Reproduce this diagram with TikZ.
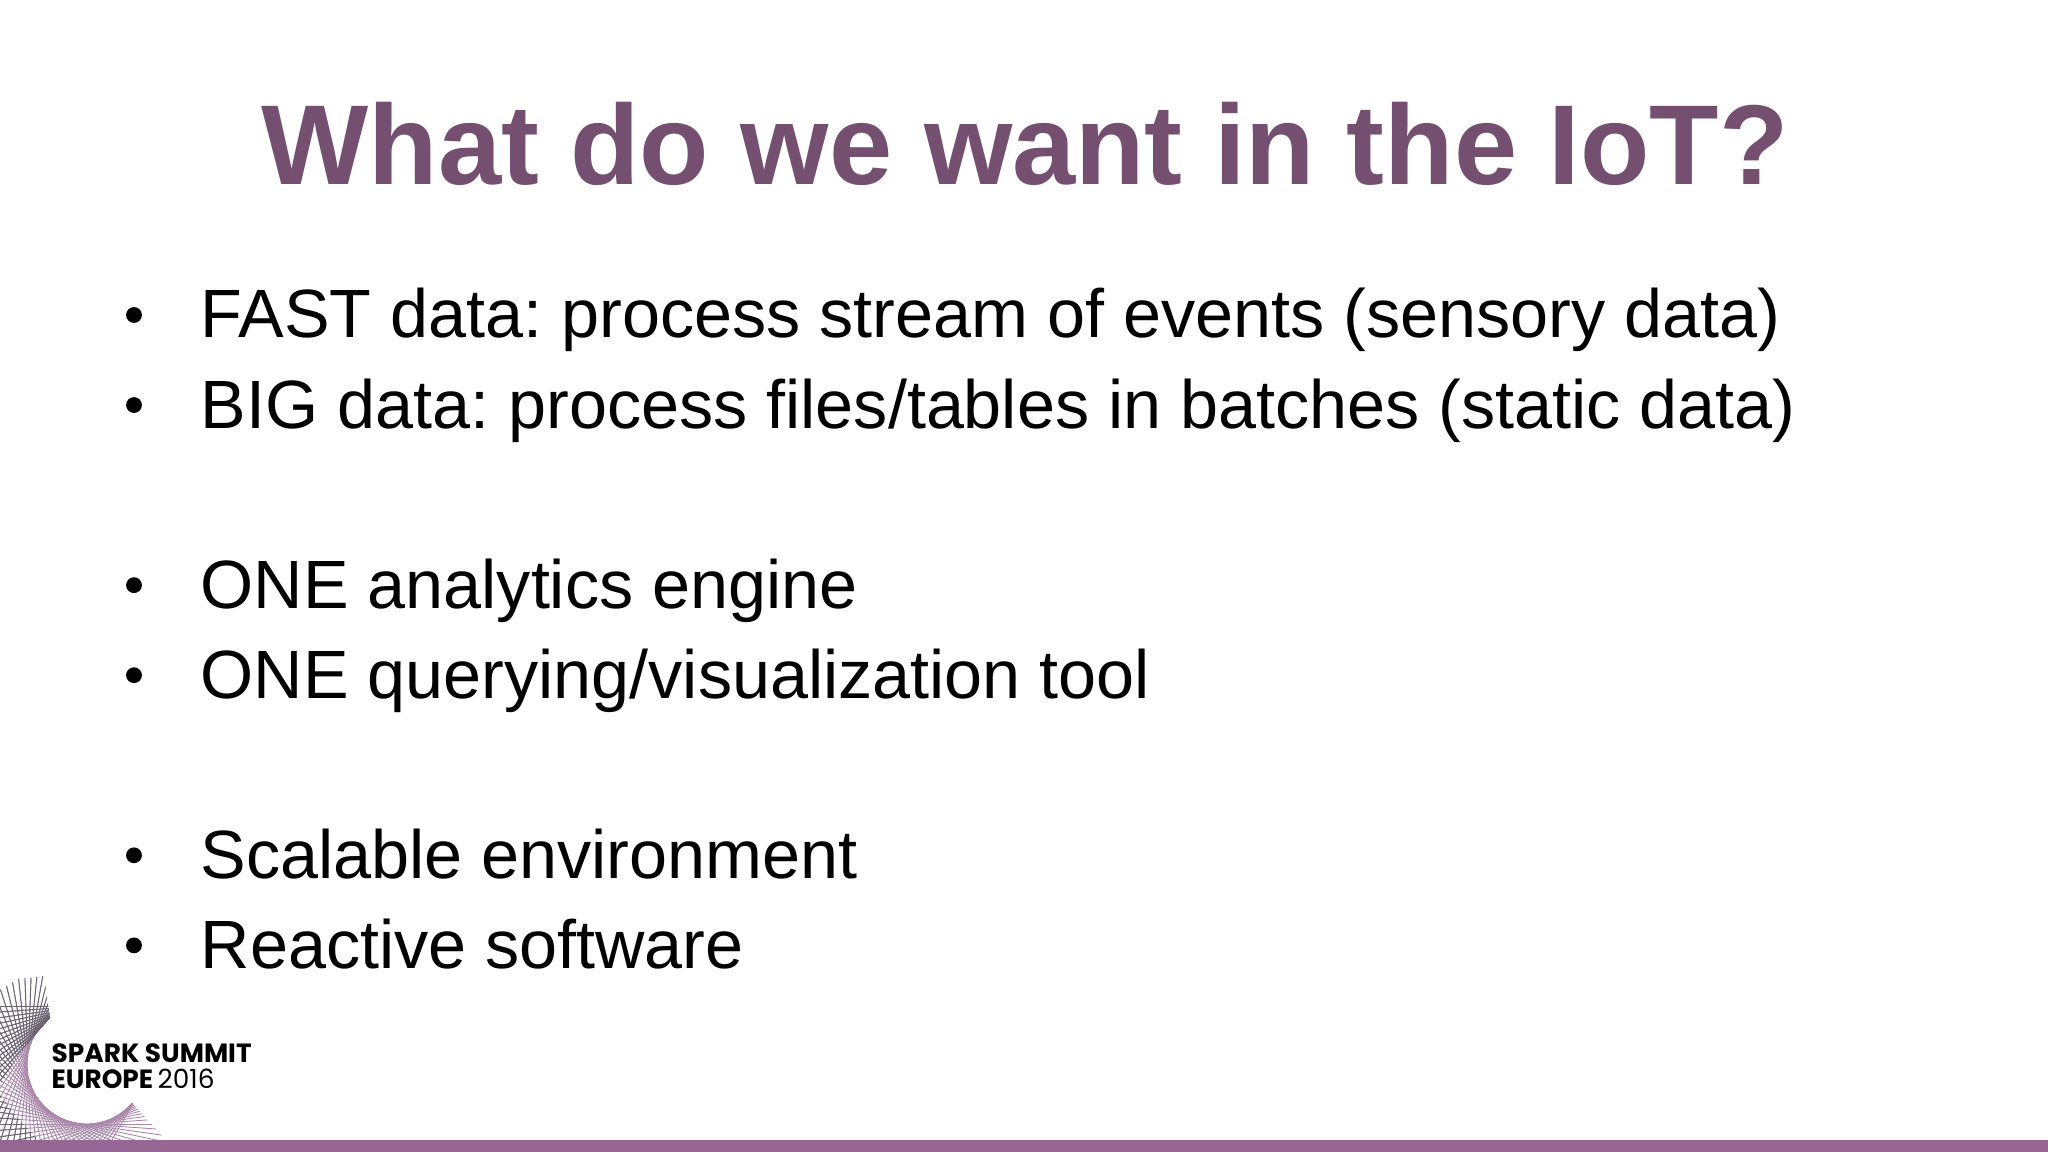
\documentclass[tikz,border=0pt]{standalone}
\usepackage{fontspec}
\setmainfont{Liberation Sans}
\newfontfamily\logofont{Poppins}
\usetikzlibrary{calc,positioning}
\definecolor{slidetitle}{HTML}{744F70}
\definecolor{slidebar}{HTML}{966694}
\definecolor{logolila}{HTML}{A987AA}
\definecolor{logodark}{HTML}{6A6570}
\frenchspacing
\newcommand{\logofan}{%
  \foreach \a in {30,34,...,270}{
    \draw ($(87,1065)+(\a:59)$) -- ++(\a+90:170);
    \draw ($(87,1065)+(\a:59)$) -- ++(\a-90:170);
  }}
\begin{document}
\begin{tikzpicture}
  [x=0.01cm,y=-0.01cm,
   titletext/.style={inner sep=0pt,anchor=base,text=slidetitle,
                     font=\fontsize{32.3}{36}\selectfont\bfseries},
   bodytext/.style={inner sep=0pt,anchor=base west,text=black,
                    font=\fontsize{19.43}{23}\selectfont},
   itemdot/.style={circle,fill=black,inner sep=0pt,minimum size=4.5pt},
   logotext/.style={inner sep=0pt,anchor=base west,text=black,
                    font=\logofont\fontsize{7.5}{8}\selectfont}]
  \useasboundingbox (0,0) rectangle (2048,1152);
  \fill[slidebar] (0,1140) rectangle (2048,1152);
  %% logo lines
  \begin{scope}[logolila,line width=0.25pt]
    \clip (0,990) -- (18,979) -- (44,976) -- (50,1018)
      arc[start angle=232,end angle=40,radius=59]
      -- (166,1140) -- (0,1140) -- cycle;
    \logofan
  \end{scope}
  \begin{scope}[logodark,line width=0.25pt]
    \clip (0,990) -- (18,979) -- (44,976) -- (50,1018) -- (35,1035) -- (15,1060) -- (0,1085) -- cycle
          (0,1095) -- (15,1115) -- (38,1140) -- (0,1140) -- cycle;
    \logofan
  \end{scope}
  \node[titletext] (title) at (1025,185) {What do we want in the IoT?};
  \node[bodytext] (fast) at (200,338) {FAST data: process stream of events (sensory data)};
  \node[bodytext] (big)  [below=0.9cm of fast.base west,anchor=base west] {BIG data: process files/tables in batches (static data)};
  \node[bodytext] (engine) [below=1.8cm of big.base west,anchor=base west] {ONE analytics engine};
  \node[bodytext] (tool)   [below=0.9cm of engine.base west,anchor=base west] {ONE querying/visualization tool};
  \node[bodytext] (scale)  [below=1.8cm of tool.base west,anchor=base west] {Scalable environment};
  \node[bodytext] (react)  [below=0.9cm of scale.base west,anchor=base west] {Reactive software};
  \foreach \row in {fast,big,engine,tool,scale,react}
    \node[itemdot] (dot-\row) at ([shift={(-66,-23)}]\row.base west) {};
  \node[logotext] (spark) at (51,1062) {\bfseries SPARK SUMMIT};
  \node[logotext] (europe) [below=0.265cm of spark.base west,anchor=base west] {\bfseries EUROPE\,\mdseries 2016};
\end{tikzpicture}
\end{document}
